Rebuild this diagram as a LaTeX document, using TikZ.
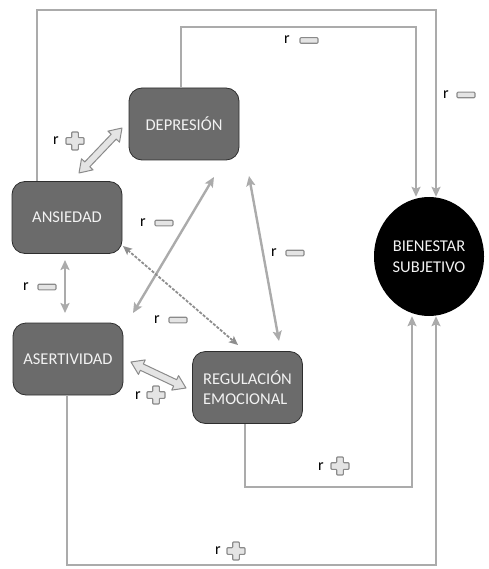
\documentclass[tikz,border=0pt]{standalone}
\usepackage{fontspec}
\setmainfont{Carlito}
\usetikzlibrary{arrows.meta,calc,shapes.geometric}

\definecolor{boxfill}{HTML}{6B6B6B}
\definecolor{boxedge}{HTML}{2E2E2E}
\definecolor{linkgray}{HTML}{ABABAB}
\definecolor{dashgray}{HTML}{8E8E8E}
\definecolor{signedge}{HTML}{8A8A8A}
\definecolor{signfill}{HTML}{E4E4E4}
\definecolor{labeltext}{HTML}{F2F2F2}

\tikzset{
  factor/.style={draw=boxedge, line width=0.8pt, fill=boxfill, rounded corners=13pt,
    minimum width=110pt, minimum height=72pt, inner sep=0pt,
    text=labeltext, font=\fontsize{16.5}{20.5}\selectfont, align=left},
  outcome/.style={ellipse, fill=black, minimum width=110pt, minimum height=119pt,
    inner sep=0pt, text=labeltext, font=\fontsize{16.5}{20.5}\selectfont, align=center},
  tip/.style={-{Stealth[length=10pt,width=9pt,inset=2pt]}},
  link/.style={draw=linkgray, line width=2.4pt},
  duo/.style={link, {Stealth[length=10pt,width=9pt,inset=2pt]}-{Stealth[length=10pt,width=9pt,inset=2pt]}},
  dotlink/.style={draw=dashgray, line width=1.8pt, dash pattern=on 3pt off 1.5pt,
    {Stealth[length=9pt,width=8pt,inset=2pt]}-{Stealth[length=9pt,width=8pt,inset=2pt]}},
  block/.style={draw=signedge, line width=1pt, fill=signfill, line join=round},
  signstyle/.style={draw=signedge, line width=1.1pt, fill=signfill, line join=round},
  rtext/.style={font=\fontsize{16}{18}\selectfont, text=black, inner sep=0pt},
}

% hollow two-headed block arrow between two named coordinates
\newcommand\blockarrow[2]{%
  \coordinate (ha) at ($(#1)!12pt!(#2)$);
  \coordinate (hb) at ($(#2)!12pt!(#1)$);
  \draw[block] (#1) -- ($(ha)!8pt!90:(#2)$) -- ($(ha)!3.5pt!90:(#2)$)
    -- ($(hb)!3.5pt!-90:(#1)$) -- ($(hb)!8pt!-90:(#1)$) -- (#2)
    -- ($(hb)!8pt!90:(#1)$) -- ($(hb)!3.5pt!90:(#1)$)
    -- ($(ha)!3.5pt!-90:(#2)$) -- ($(ha)!8pt!-90:(#2)$) -- cycle;}

% outlined minus and plus marks
\newcommand\minusmark[1]{%
  \draw[signstyle, rounded corners=1pt] ($(#1)+(-9,-2.8)$) rectangle ($(#1)+(9,2.8)$);}
\newcommand\plusmark[1]{%
  \begin{scope}[shift={(#1)}]
    \draw[signstyle, rounded corners=0.8pt] (-3.3,-9) -- (3.3,-9) -- (3.3,-3.3) -- (9,-3.3)
      -- (9,3.3) -- (3.3,3.3) -- (3.3,9) -- (-3.3,9) -- (-3.3,3.3) -- (-9,3.3)
      -- (-9,-3.3) -- (-3.3,-3.3) -- cycle;
  \end{scope}}

\begin{document}
\begin{tikzpicture}[x=1pt, y=-1pt]
  \useasboundingbox (0,0) rectangle (488,569);

  % factors
  \node[factor] (dep) at (184,124) {DEPRESIÓN};
  \node[factor] (ans) at (67,217.5) {ANSIEDAD};
  \node[factor] (ase) at (68,359) {ASERTIVIDAD};
  \node[factor] (reg) at (247.5,387.5) {REGULACIÓN\\EMOCIONAL};
  \node[outcome] (bien) at (429,256.5) {BIENESTAR\\SUBJETIVO};

  % paths into subjective well-being
  \draw[link, tip] (ans.north -| 37,0) |- (436,10) -- (bien.north -| 436,0);
  \draw[link, tip] (dep.north -| 181,0) |- (416,27) -- (bien.north -| 416,0);
  \draw[link, tip] (ase.south -| 67,0) |- (436,565) -- (bien.south -| 436,0);
  \draw[link, tip] (reg.south -| 245,0) |- (412,487) -- (bien.south -| 412,0);

  % correlations among factors
  \coordinate (c1) at (133,313);
  \coordinate (c2) at (214,177);
  \coordinate (c3) at (249,176);
  \coordinate (c4) at (279,341);
  \coordinate (c5) at (123,246);
  \coordinate (c6) at (238,345);
  \coordinate (c7) at (65,260);
  \coordinate (c8) at (65,313);
  \draw[duo] (c1) -- (c2);
  \draw[duo] (c3) -- (c4);
  \draw[dotlink] (c5) -- (c6);
  \draw[duo, line width=2pt] (c7) -- (c8);

  \coordinate (b1) at (79,173);
  \coordinate (b2) at (122,128);
  \blockarrow{b1}{b2}
  \coordinate (b3) at (131,362);
  \coordinate (b4) at (186,388);
  \blockarrow{b3}{b4}

  % coefficient signs
  \node[rtext] (r1) at (287,40) {r};      \minusmark{309,40.5}
  \node[rtext] (r2) at (446,95) {r};      \minusmark{466,95}
  \node[rtext] (r3) at (56,141) {r};      \plusmark{75,141}
  \node[rtext] (r4) at (143,223) {r};     \minusmark{164,223}
  \node[rtext] (r5) at (274,253) {r};     \minusmark{295,253}
  \node[rtext] (r6) at (26,287) {r};      \minusmark{47,287}
  \node[rtext] (r7) at (157,320) {r};     \minusmark{178,320}
  \node[rtext] (r8) at (138,396) {r};     \plusmark{156,395}
  \node[rtext] (r9) at (321,467) {r};     \plusmark{340,466}
  \node[rtext] (r10) at (218,551) {r};    \plusmark{236,551}
\end{tikzpicture}
\end{document}
